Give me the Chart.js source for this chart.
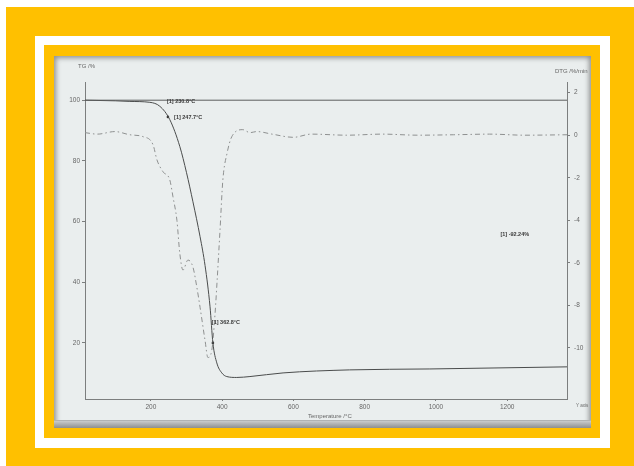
<!DOCTYPE html>
<html><head><meta charset="utf-8">
<script src="https://cdn.jsdelivr.net/npm/chart.js@4"></script>
<style>
html,body{margin:0;padding:0;background:#fff;width:634px;height:466px;overflow:hidden;}
#y1{position:absolute;left:6px;top:7px;width:628px;height:459px;background:#FFC000;}
#w1{position:absolute;left:35px;top:36px;width:575px;height:412px;background:#fff;}
#y2{position:absolute;left:44px;top:45px;width:556px;height:393px;background:#FFC000;}
#photo{position:absolute;left:54px;top:56px;width:537px;height:372px;background:#eaeeee;
 box-shadow:inset 0 0 5px 2px rgba(70,70,70,0.55);overflow:hidden;}
#edge{position:absolute;left:0;top:365px;width:537px;height:7px;background:linear-gradient(#c9cccc,#8d8f8f);}
#edge2{position:absolute;left:0;top:364px;width:537px;height:1px;background:#b0b3b3;}
canvas{position:absolute;left:0;top:0;}
</style></head>
<body>
<div id="y1"></div><div id="w1"></div><div id="y2"></div>
<div id="photo"><div id="edge2"></div><div id="edge"></div><canvas id="c" width="537" height="372"></canvas></div>
<script>
// Temperature (°C) and TG (%)
const tgTemp = [15, 100, 141, 197, 225, 253, 281, 300, 318, 338, 352, 366, 374, 385, 399, 413, 441, 478, 571, 758, 983, 1368];
const tgValues = [100.0, 99.8, 99.6, 99.3, 98.0, 93.6, 84.8, 76.1, 66.5, 55.0, 45.5, 31.9, 20.0, 13.4, 10.1, 8.9, 8.6, 8.9, 10.1, 11.1, 11.4, 12.1];
// Temperature (°C) and DTG (%/min)
const dtgTemp = [15, 50, 99, 141, 178, 206, 217, 234, 253, 262, 273, 281, 290, 304, 318, 329, 338, 352, 360, 371, 380, 386, 394, 402, 414, 427, 458, 478, 497, 540, 600, 650, 750, 850, 950, 1050, 1150, 1250, 1368];
const dtgValues = [0.12, 0.05, 0.17, 0.02, -0.07, -0.45, -1.16, -1.72, -2.1, -2.9, -4.0, -5.54, -6.34, -5.87, -6.2, -7.15, -8.09, -9.65, -10.45, -10.1, -8.4, -6.8, -4.46, -2.1, -0.83, -0.07, 0.26, 0.12, 0.17, 0.05, -0.1, 0.05, 0.0, 0.05, 0.0, 0.02, 0.05, 0.0, 0.02];
// reference line at initial mass
const refTemp = [15, 1368];
const refValues = [100, 100];
// marked points on TG curve
const markTemp = [247.7, 374];
const markValues = [94.5, 20.0];
// tick labels
const xTicks = [200, 400, 600, 800, 1000, 1200];
const tgTicks = [20, 40, 60, 80, 100];
const dtgTicks = [2, 0, -2, -4, -6, -8, -10];
// annotation texts with their data positions
const annoText = ["[1] 230.8°C", "[1] 247.7°C", "[1] 362.8°C", "[1] -92.24%"];
const annoTemp = [245, 265, 371, 1181];
const annoTG = [99.7, 94.3, 26.6, 55.6];

const pts = (xs, ys) => xs.map((x, i) => ({x: x, y: ys[i]}));
const tickFont = {family: 'Liberation Sans, Arial', size: 6.5};
const axisCol = '#7c7e7e';

const textPlugin = {
  id: 'texts',
  afterDatasetsDraw(chart) {
    const ctx = chart.ctx, xs = chart.scales.x, ys = chart.scales.y;
    ctx.save();
    ctx.fillStyle = '#3a3a3a';
    ctx.font = 'bold 5.5px Liberation Sans, Arial';
    ctx.textBaseline = 'middle';
    ctx.textAlign = 'left';
    annoText.forEach((t, i) => {
      ctx.fillText(t, xs.getPixelForValue(annoTemp[i]), ys.getPixelForValue(annoTG[i]));
    });
    ctx.fillStyle = '#666';
    ctx.font = '6px Liberation Sans, Arial';
    ctx.fillText('TG /%', 24, 10);
    ctx.fillText('DTG /%/min', 501, 15);
    ctx.fillText('Temperature /°C', 254, 360);
    ctx.font = '4.5px Liberation Sans, Arial';
    ctx.fillText('Y axis', 522, 350);
    ctx.restore();
  }
};

new Chart(document.getElementById('c'), {
  type: 'line',
  data: {
    datasets: [
      {data: pts(refTemp, refValues), yAxisID: 'y', borderColor: '#5c5e5e', borderWidth: 1, pointRadius: 0},
      {data: pts(tgTemp, tgValues), yAxisID: 'y', borderColor: '#4a4c4c', borderWidth: 1, pointRadius: 0, cubicInterpolationMode: 'monotone'},
      {data: pts(dtgTemp, dtgValues), yAxisID: 'y2', borderColor: '#8e9090', borderWidth: 1, pointRadius: 0, borderDash: [5, 3, 1.5, 3], cubicInterpolationMode: 'monotone'},
      {data: pts(markTemp, markValues), yAxisID: 'y', showLine: false, pointRadius: 1.3, pointBackgroundColor: '#333', pointBorderWidth: 0}
    ]
  },
  options: {
    responsive: false, animation: false,
    layout: {padding: {top: 26, left: 0, right: 0, bottom: 0}},
    plugins: {legend: {display: false}, tooltip: {enabled: false}},
    scales: {
      x: {type: 'linear', min: 15, max: 1368,
        afterBuildTicks: s => { s.ticks = xTicks.map(v => ({value: v})); },
        afterFit: s => { s.height = 29; },
        grid: {drawOnChartArea: false, tickLength: 2, color: axisCol},
        border: {color: axisCol, width: 1},
        ticks: {font: tickFont, color: '#666', padding: 2, maxRotation: 0, callback: v => String(v)}},
      y: {position: 'left', min: 1.5, max: 106,
        afterBuildTicks: s => { s.ticks = tgTicks.map(v => ({value: v})); },
        afterFit: s => { s.width = 31; },
        grid: {drawOnChartArea: false, tickLength: 3, color: axisCol},
        border: {color: axisCol, width: 1},
        ticks: {font: tickFont, color: '#666', padding: 2, callback: v => String(v)}},
      y2: {position: 'right', min: -12.4, max: 2.5,
        afterBuildTicks: s => { s.ticks = dtgTicks.map(v => ({value: v})); },
        afterFit: s => { s.width = 24; },
        grid: {drawOnChartArea: false, tickLength: 3, color: axisCol},
        border: {color: axisCol, width: 1},
        ticks: {font: tickFont, color: '#666', padding: 4, callback: v => String(v)}}
    }
  },
  plugins: [textPlugin]
});
</script>
</body></html>
